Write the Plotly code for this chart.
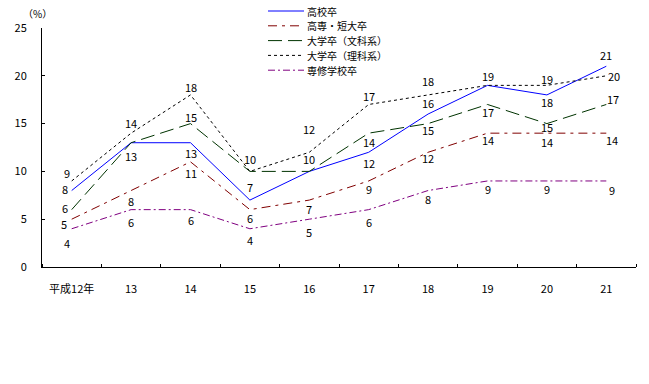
import plotly.graph_objects as go

categories = ["平成12年", "13", "14", "15", "16", "17", "18", "19", "20", "21"]
series_names = ["高校卒", "高専・短大卒", "大学卒（文科系）", "大学卒（理科系）", "専修学校卒"]
koko = [8, 13, 13, 7, 10, 12, 16, 19, 18, 21]
tandai = [5, 8, 11, 6, 7, 9, 12, 14, 14, 14]
bunkei = [6, 13, 15, 10, 10, 14, 15, 17, 15, 17]
rikei = [9, 14, 18, 10, 12, 17, 18, 19, 19, 20]
senshu = [4, 6, 6, 4, 5, 6, 8, 9, 9, 9]
y_ticks = [0, 5, 10, 15, 20, 25]

values = [koko, tandai, bunkei, rikei, senshu]
colors = ["#0000FF", "#800000", "#003300", "#000000", "#800080"]
dashes = ["solid", "9px,5px,3px,5px", "14px,6px", "3px,3px", "7px,3px,2px,3px"]

# label pixel offsets (dx, dy; dy positive = downward)
offsets = [
    [(-7, -2), (0, 13), (0, 10), (0, -13), None, (0, 11), (0, -11), (0, -9), (0, 7), (0, -11)],
    [(-8, 5), (0, 10), (0, 11), (0, 8), (0, 9), (0, 8), (0, 6), (0, 7), (0, 9), (6, 7)],
    [(-7, -2), None, (0, -7), (0, -12), (0, -12), (0, 9), (0, 6), (0, 8), (0, 3), (7, -5)],
    [(-5, -8), (0, -10), (0, -8), None, (0, -23), (0, -8), (0, -14), None, (0, -6), (8, 0)],
    [(-5, 14), (0, 12), (0, 10), (0, 11), (0, 13), (0, 12), (0, 8), (0, 8), (0, 8), (6, 9)],
]

FONT = "Noto Sans CJK JP"
idx = list(range(len(categories)))
fig = go.Figure()
for name, vals, col, dash in zip(series_names, values, colors, dashes):
    fig.add_trace(go.Scatter(x=idx, y=vals, mode="lines", name=name,
                             line=dict(color=col, width=1, dash=dash), showlegend=False,
                             hoverinfo="skip"))

annotations = []
for vals, offs in zip(values, offsets):
    for i, v, off in zip(idx, vals, offs):
        if off is None:
            continue
        annotations.append(dict(x=i, y=v, xref="x", yref="y", text=str(v), showarrow=False,
                                xshift=off[0], yshift=-off[1],
                                font=dict(family=FONT, size=11, color="#000000")))

# manual legend
L, R, T, B = 42, 13, 28, 117
PW, PH = 649 - L - R, 384 - T - B
def px(x):
    return (x - L) / PW
def py(y):
    return (384 - B - y) / PH

legend_rows = [11, 25.8, 40.6, 55.4, 70.2]
shapes = []
for yy, name, col, dash in zip(legend_rows, series_names, colors, dashes):
    shapes.append(dict(type="line", xref="paper", yref="paper", x0=px(268), x1=px(304),
                       y0=py(yy), y1=py(yy), line=dict(color=col, width=1, dash=dash)))
    annotations.append(dict(x=px(306), y=py(yy), xref="paper", yref="paper", text=name,
                            showarrow=False, xanchor="left", yanchor="middle", borderpad=0,
                            font=dict(family=FONT, size=10, color="#000000")))

annotations.append(dict(x=px(37), y=py(14), xref="paper", yref="paper", text="（%）",
                        showarrow=False, xanchor="center", yanchor="middle",
                        font=dict(family=FONT, size=10, color="#000000")))

fig.update_layout(
    width=649, height=384,
    margin=dict(l=L, r=R, t=T, b=B),
    paper_bgcolor="white", plot_bgcolor="white",
    font=dict(family=FONT, size=11, color="#000000"),
    annotations=annotations, shapes=shapes,
    xaxis=dict(range=[-0.5, 9.5], tickvals=idx, ticktext=categories, ticks="",
               showline=True, linecolor="#000", linewidth=1, automargin=False,
               showgrid=False, zeroline=False, ticklabelstandoff=12,
               minor=dict(tickvals=[i + 0.5 for i in range(-1, len(categories))],
                          ticks="inside", ticklen=3, tickcolor="#000", showgrid=False),
               tickfont=dict(family=FONT, size=11)),
    yaxis=dict(range=[0, 25], tickvals=y_ticks, ticks="inside", ticklen=3, tickcolor="#000",
               showline=True, linecolor="#000", linewidth=1, showgrid=False, zeroline=False,
               automargin=False, ticklabelstandoff=12, tickfont=dict(family=FONT, size=11)),
)
fig.write_html("out.html", config={"displayModeBar": False},
               post_script="document.body.style.margin='0px';")
